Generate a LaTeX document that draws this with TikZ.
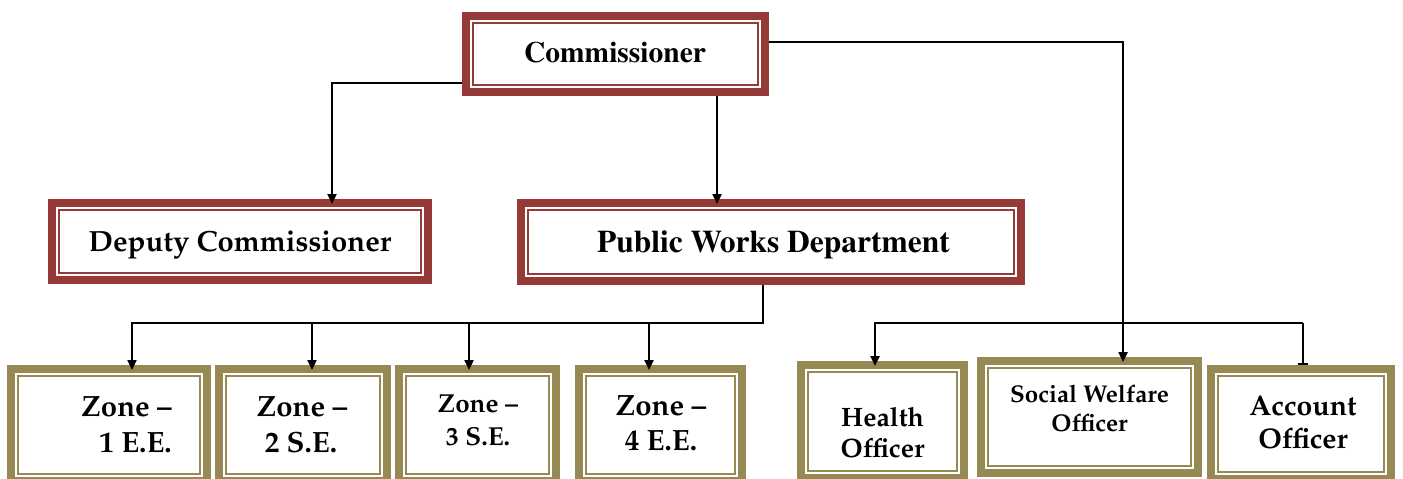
\documentclass[tikz,border=0pt]{standalone}
\usepackage[T1]{fontenc}
\usetikzlibrary{arrows.meta}
\definecolor{bandred}{HTML}{963A38}
\definecolor{bandolive}{HTML}{968954}
\newcommand\tmsb[1]{\fontencoding{T1}\fontfamily{ptm}\fontseries{b}\fontsize{#1}{#1}\selectfont}
\newcommand\plb[1]{\fontencoding{T1}\fontfamily{ppl}\fontseries{b}\fontsize{#1}{#1}\selectfont}
\newcommand\orgbox[6]{%
  \pgfmathsetmacro\obw{#4-#2-7.7}\pgfmathsetmacro\obh{#5-#3-7.7}%
  \node[orgframe=#6, minimum width=\obw pt, minimum height=\obh pt] (#1) at ({(#2+#4)/2},{(#3+#5)/2}) {};
  \draw[#6, line width=2pt] ([shift={(11pt,-11pt)}]#1.north west) rectangle ([shift={(-11pt,11pt)}]#1.south east);
}
\tikzset{
  orgframe/.style={draw=#1, fill=white, line width=7.7pt, inner sep=0pt},
  conn/.style={line width=2.3pt, -{Triangle[length=10pt,width=9pt]}, shorten >=-5pt},
  barline/.style={line width=2.3pt, -{Bar[width=10pt,line width=2.3pt]}},
  lbl/.style={anchor=base, inner sep=0pt, text=black},
}
\begin{document}
\begin{tikzpicture}[x=1pt,y=-1pt]
\useasboundingbox (0,0) rectangle (1403,479);
\clip (0,0) rectangle (1403,479);
% boxes
\orgbox{comm}{462}{12}{769}{96}{bandred}
\orgbox{dep}{48}{199}{432}{284}{bandred}
\orgbox{pwd}{517}{199}{1025}{285}{bandred}
\orgbox{z1}{7}{365}{211}{485}{bandolive}
\orgbox{z2}{215}{365}{391}{485}{bandolive}
\orgbox{z3}{395}{365}{560}{485}{bandolive}
\orgbox{z4}{575}{365}{746}{485}{bandolive}
\orgbox{hlt}{797}{361}{968}{482}{bandolive}
\orgbox{sw}{977}{357}{1202}{477}{bandolive}
\orgbox{acc}{1207}{365}{1395}{483}{bandolive}
% connectors
\coordinate (zbus) at (763,323);
\coordinate (obus) at (1303,323);
\draw[conn] ([yshift=-29pt]comm.west) -| ([xshift=92pt]dep.north);
\draw[conn] ([xshift=101.5pt]comm.south) -- ([xshift=101.5pt]comm.south |- pwd.north);
\draw[conn] ([yshift=12pt]comm.east) -| ([xshift=33.5pt]sw.north);
\draw[conn] ([xshift=-8pt]pwd.south) |- (zbus) -| ([xshift=23pt]z1.north);
\draw[conn] ([xshift=9pt]z2.north |- zbus) -- ([xshift=9pt]z2.north);
\draw[conn] ([xshift=-8.5pt]z3.north |- zbus) -- ([xshift=-8.5pt]z3.north);
\draw[conn] ([xshift=-11.5pt]z4.north |- zbus) -- ([xshift=-11.5pt]z4.north);
\draw[conn] (obus) -| ([xshift=-7.5pt]hlt.north);
\draw[barline] (obus) -- ([xshift=2pt]acc.north);
% labels
\node[lbl] (tcomm) at (615,62) {\tmsb{29.5}Commissioner};
\node[lbl] (tdep) at (240,251) {\plb{29.2}Deputy Commissioner};
\node[lbl] (tpwd) at (773.5,252) {\tmsb{31.5}Public Works Department};
\node[lbl, anchor=base east] (tz1a) at (172,416) {\plb{29.3}Zone --};
\node[lbl, anchor=base east] (tz1b) at (172,452) {\plb{29.3}1 E.E.};
\node[lbl] (tz2a) at (302,416) {\plb{29.3}Zone --};
\node[lbl] (tz2b) at (301,452) {\plb{29.3}2 S.E.};
\node[lbl] (tz3a) at (478,412) {\plb{26}Zone --};
\node[lbl] (tz3b) at (478,445) {\plb{26}3 S.E.};
\node[lbl] (tz4a) at (661,415) {\plb{29.3}Zone --};
\node[lbl] (tz4b) at (661,450) {\plb{29.3}4 E.E.};
\node[lbl] (th1) at (882.5,426) {\plb{26.6}Health};
\node[lbl] (th2) at (882.5,457) {\plb{26.6}Officer};
\node[lbl] (ts1) at (1089.5,402) {\plb{24.2}Social Welfare};
\node[lbl] (ts2) at (1089.5,431) {\plb{24.2}Officer};
\node[lbl] (ta1) at (1303,415) {\plb{28.4}Account};
\node[lbl] (ta2) at (1303,448) {\plb{28.4}Officer};
\end{tikzpicture}
\end{document}
